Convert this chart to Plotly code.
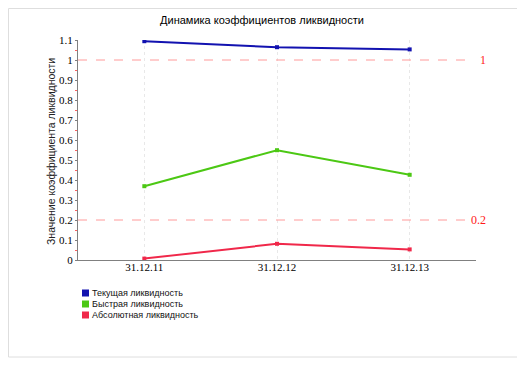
import plotly.graph_objects as go

categories = ["31.12.11", "31.12.12", "31.12.13"]
series_names = ["Текущая ликвидность", "Быстрая ликвидность", "Абсолютная ликвидность"]
current_liq = [1.094, 1.064, 1.053]
quick_liq = [0.369, 0.549, 0.426]
absolute_liq = [0.007, 0.081, 0.053]
ref_values = [1, 0.2]
ref_labels = ["1", "0.2"]
title_text = "Динамика коэффициентов ликвидности"
y_title = "Значение коэффициента ликвидности"

colors = ["#1212b0", "#4cc814", "#f0284a"]
series = [current_liq, quick_liq, absolute_liq]

OFF = 8  # page body margin
# plot area in page pixels: x 78..476, y 40..260
L, T = 78 - OFF, 40 - OFF
W, H = 398, 220
R = 525 - L - W
B = 365 - T - H

def px_x(px):
    return (px - OFF - L) / W

def px_y(py):
    return (T + H - (py - OFF)) / H

fig = go.Figure()
for name, vals, col in zip(series_names, series, colors):
    fig.add_trace(go.Scatter(
        x=categories, y=vals, name=name, mode="lines+markers",
        line=dict(color=col, width=2),
        marker=dict(color=col, size=4, symbol="square"),
        showlegend=False,
    ))

shapes = []
annotations = []
# outer frame
shapes.append(dict(type="rect", xref="paper", yref="paper",
                   x0=px_x(OFF + 0.5), x1=px_x(518.5), y0=px_y(357), y1=px_y(OFF + 0.5),
                   line=dict(color="#dedede", width=1), layer="below"))
# reference lines
for v, lab in zip(ref_values, ref_labels):
    shapes.append(dict(type="line", xref="paper", yref="y", x0=0, x1=px_x(473),
                       y0=v, y1=v, line=dict(color="#ff9a9a", width=1, dash="dash")))
    annotations.append(dict(xref="paper", yref="y", x=px_x(488), y=v, text=lab,
                            showarrow=False, xanchor="right", yanchor="middle",
                            font=dict(family="Liberation Serif", size=12, color="#ff1a1a")))
# y axis title
annotations.append(dict(xref="paper", yref="paper", x=px_x(51), y=px_y(152), text=y_title,
                        textangle=-90, showarrow=False, xanchor="center", yanchor="middle",
                        font=dict(family="Liberation Sans", size=10.5, color="#222222")))
# manual legend
leg_y = [293, 304, 315]
for name, col, ly in zip(series_names, colors, leg_y):
    shapes.append(dict(type="rect", xref="paper", yref="paper",
                       x0=px_x(82), x1=px_x(89), y0=px_y(ly + 3.5), y1=px_y(ly - 3.5),
                       fillcolor=col, line=dict(width=0)))
    annotations.append(dict(xref="paper", yref="paper", x=px_x(90), y=px_y(ly), text=name,
                            showarrow=False, xanchor="left", yanchor="middle",
                            font=dict(family="Liberation Sans", size=9, color="#111111")))

fig.update_layout(
    width=525, height=365,
    margin=dict(l=L, r=R, t=T, b=B, pad=0),
    paper_bgcolor="white", plot_bgcolor="white",
    title=dict(text=title_text, x=(262 - OFF) / 525, xanchor="center",
               y=1 - (20 - OFF) / 365, yanchor="middle",
               font=dict(family="Liberation Sans", size=11, color="#000000")),
    xaxis=dict(range=[-0.5, 2.5], showgrid=True, gridcolor="#e8e8e8", griddash="dot",
               showline=True, linecolor="#808080", linewidth=1, ticks="",
               ticklabelstandoff=-3,
               tickfont=dict(family="Liberation Serif", size=11, color="#000000"),
               zeroline=False),
    yaxis=dict(range=[0, 1.1], dtick=0.1, tick0=0, showgrid=False, zeroline=False,
               showline=True, linecolor="#808080", linewidth=1,
               ticks="outside", ticklen=2, tickcolor="#808080",
               minor=dict(dtick=0.05, ticks="outside", ticklen=2, tickcolor="#ff6060"),
               tickfont=dict(family="Liberation Serif", size=11, color="#000000")),
    yaxis2=dict(range=[0, 1.1], dtick=0.2, tick0=0, overlaying="y", side="left",
                showgrid=True, gridcolor="#e8e8e8", griddash="dash",
                showticklabels=False, showline=False, zeroline=False, ticks=""),
    shapes=shapes, annotations=annotations,
)
fig.write_html("out.html")
